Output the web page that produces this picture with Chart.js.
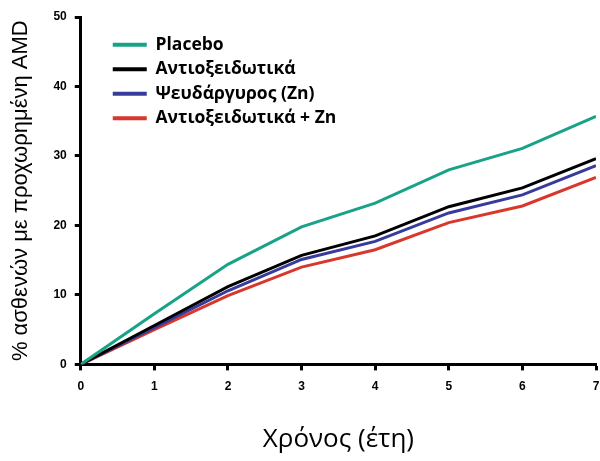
<!DOCTYPE html>
<html>
<head>
<meta charset="utf-8">
<script src="https://cdn.jsdelivr.net/npm/chart.js@4"></script>
<style>
  html, body { margin: 0; padding: 0; background: #fff; }
  #wrap { width: 600px; height: 461px; }
</style>
</head>
<body>
<div id="wrap"><canvas id="amdChart"></canvas></div>
<script>
const years = [0, 1, 2, 3, 4, 5, 6, 7];
const placebo = [0, 7.3, 14.4, 19.8, 23.2, 28.0, 31.1, 35.7];
const antioxidants = [0, 5.6, 11.2, 15.7, 18.5, 22.7, 25.4, 29.6];
const zinc = [0, 5.3, 10.6, 15.1, 17.7, 21.8, 24.4, 28.6];
const antioxZinc = [0, 5.0, 9.9, 14.0, 16.5, 20.4, 22.8, 26.9];

const seriesNames = ['Placebo', 'Αντιοξειδωτικά', 'Ψευδάργυρος (Zn)', 'Αντιοξειδωτικά + Zn'];
const seriesColors = ['#18a386', '#000000', '#373c9c', '#d9372c'];
const seriesValues = [placebo, antioxidants, zinc, antioxZinc];

const toPoints = vals => vals.map((v, i) => ({x: years[i], y: v}));

// nudge the in-plot legend away from the axes
const legendOffset = {
  id: 'legendOffset',
  afterLayout(chart) {
    const lg = chart.legend;
    if (!lg) return;
    lg.left += 25; lg.right += 25;
    lg.top += 29; lg.bottom += 29;
  }
};

const ctx = document.getElementById('amdChart').getContext('2d');
new Chart(ctx, {
  type: 'line',
  data: {
    datasets: seriesValues.map((vals, i) => ({
      label: seriesNames[i],
      data: toPoints(vals),
      borderColor: seriesColors[i],
      backgroundColor: seriesColors[i],
      borderWidth: 3,
      tension: 0,
      pointRadius: 0,
      fill: false
    }))
  },
  options: {
    responsive: true,
    maintainAspectRatio: false,
    animation: false,
    layout: {
      padding: {left: 8, right: 4, top: 17, bottom: 6}
    },
    plugins: {
      legend: {
        position: 'chartArea',
        align: 'start',
        labels: {
          boxWidth: 34,
          boxHeight: 4,
          padding: 7,
          color: '#000',
          font: {family: '"Open Sans", sans-serif', size: 17.5, weight: 'bold'},
          generateLabels(chart) {
            return Chart.defaults.plugins.legend.labels.generateLabels(chart)
              .map(item => Object.assign(item, {lineWidth: 0}));
          }
        }
      },
      tooltip: {enabled: false}
    },
    scales: {
      x: {
        type: 'linear',
        min: 0,
        max: 7,
        border: {display: true, color: '#000', width: 3},
        grid: {
          drawOnChartArea: false,
          drawTicks: true,
          tickLength: 6,
          tickWidth: 3,
          tickColor: '#000'
        },
        ticks: {
          stepSize: 1,
          padding: 9,
          color: '#000',
          font: {family: '"Liberation Sans", Arial, sans-serif', size: 12, weight: 'bold'}
        },
        // tick padding shouldn't eat into the right edge
        afterFit(scale) {
          scale.paddingRight = 0;
        },
        title: {
          display: true,
          text: 'Χρόνος (έτη)',
          color: '#000',
          padding: {top: 21, bottom: 0},
          font: {family: '"Open Sans", sans-serif', size: 26}
        }
      },
      y: {
        min: 0,
        max: 50,
        border: {display: true, color: '#000', width: 3},
        grid: {
          drawOnChartArea: false,
          drawTicks: true,
          tickLength: 6,
          tickWidth: 3,
          tickColor: '#000'
        },
        ticks: {
          stepSize: 10,
          padding: 8,
          color: '#000',
          font: {family: '"Liberation Sans", Arial, sans-serif', size: 12, weight: 'bold'}
        },
        title: {
          display: true,
          text: '% ασθενών με προχωρημένη AMD',
          color: '#000',
          padding: {top: 0, bottom: 11},
          font: {family: '"Liberation Sans", Arial, sans-serif', size: 22}
        }
      }
    }
  },
  plugins: [legendOffset]
});
</script>
</body>
</html>
